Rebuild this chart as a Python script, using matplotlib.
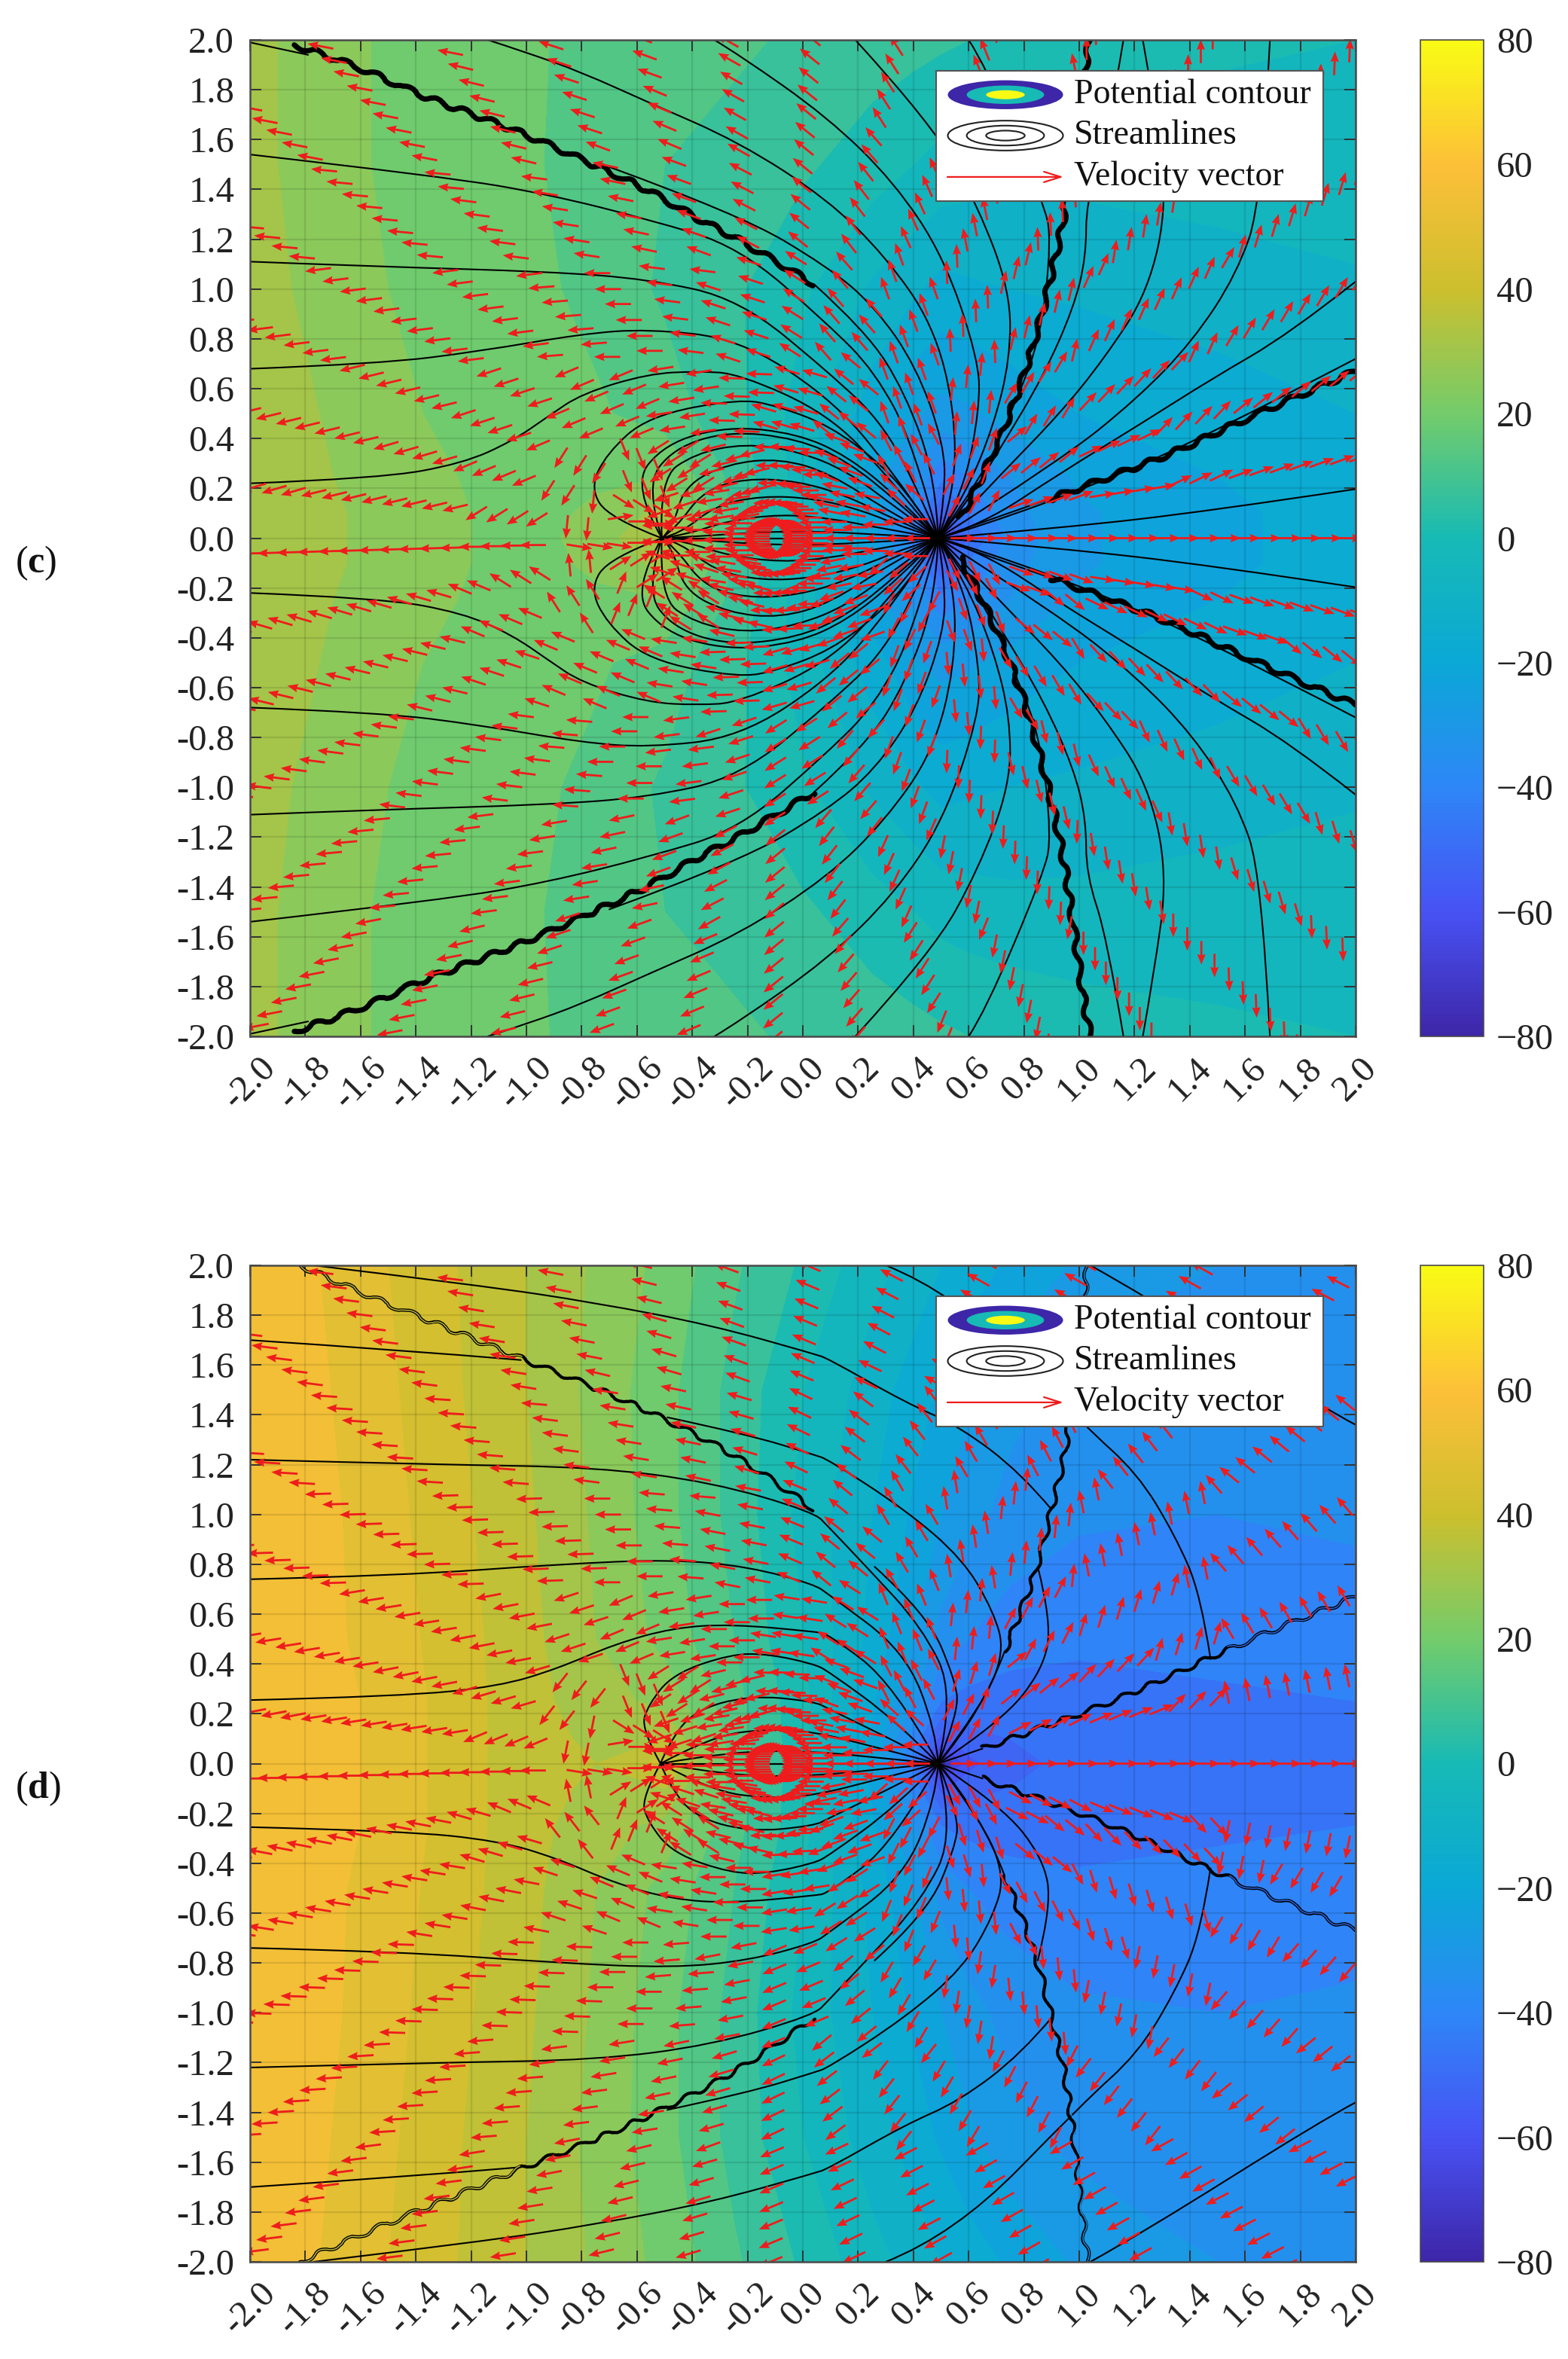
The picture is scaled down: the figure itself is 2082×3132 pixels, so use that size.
import numpy as np
import matplotlib
matplotlib.use("Agg")
import matplotlib.pyplot as plt
from matplotlib.colors import LinearSegmentedColormap
from matplotlib.path import Path
from matplotlib.patches import PathPatch, Ellipse, Rectangle

plt.rcParams['font.family'] = ['Liberation Serif', 'DejaVu Serif']
plt.rcParams['mathtext.fontset'] = 'custom'
plt.rcParams['mathtext.rm'] = 'Liberation Serif'
plt.rcParams['mathtext.bf'] = 'Liberation Serif:bold'

# ---------- values ----------
TICKS = [round(-2 + 0.2 * i, 1) for i in range(21)]
CBAR_TICKS = [-80, -60, -40, -20, 0, 20, 40, 60, 80]
PANELS = ['c', 'd']
LEGEND_LABELS = ['Potential contour', 'Streamlines', 'Velocity vector']

POT_X = [-2, -1.75, -1.5, -1, -.75, -.5, -.25, 0, .25, .4, .5, .6, .75, 1, 1.5, 2]
POT_Y = [0, .1, .25, .5, 1, 1.5, 2]
POT_C = [
    [33, 30, 25, 20, 24, 36, 10, -4, -24, -42, -76, -50, -36, -27, -21, -18],
    [33, 30, 25, 20, 23, 30, 9, -4, -23, -38, -56, -44, -34, -27, -21, -18],
    [32, 29, 24, 20, 21, 22, 8, -5, -23, -33, -42, -38, -32, -25, -20, -17],
    [32, 28, 23, 19, 17, 13, 6, -5, -17, -25, -28, -27, -24, -20, -17, -14],
    [31, 26, 22, 18, 14, 9, 5, -1, -9, -13, -16, -15, -14, -13, -11, -9],
    [30, 25, 21, 17, 13, 10, 8, 5, 1, -2, -4, -5, -6, -6, -5, -4],
    [30, 25, 21, 17, 14, 12, 11, 9, 7, 6, 5, 4, 3, 1, -1, -2],
]
POT_D = [
    [58, 55, 50, 36, 34, 42, 14, 0, -22, -45, -78, -58, -52, -48, -46, -45],
    [58, 55, 50, 36, 33, 34, 13, 0, -21, -40, -58, -52, -50, -48, -46, -45],
    [58, 55, 50, 36, 31, 26, 12, 0, -19, -32, -44, -46, -47, -46, -45, -44],
    [58, 54, 49, 36, 28, 20, 10, -2, -16, -26, -34, -38, -41, -43, -42, -41],
    [57, 54, 48, 35, 27, 18, 8, -4, -14, -21, -26, -30, -34, -37, -38, -37],
    [56, 53, 47, 34, 26, 18, 8, -2, -11, -17, -21, -25, -30, -34, -37, -37],
    [56, 52, 46, 34, 27, 20, 11, 3, -6, -10, -14, -17, -21, -27, -32, -34],
]

# arrows: nodes on rays around a centre, direction by region (upper half, mirrored below)
ARROW_CENTRE = -0.05
RAY_DEG = [0, 8.6, 17.3, 26, 34.7, 43.3, 52, 60.7, 69.3, 78, 86.7, 95.3, 104, 112.6, 121.3,
           130, 138, 146.8, 155.6, 164.7, 173.4, 181.8, 191, 199.7, 208.2, 217.9, 226, 234.7,
           243.3, 252, 260.7, 269.3, 278, 286.7, 295.3, 304, 312.7, 321.3, 330, 338.6, 347.3, 351.9]
RING_R = [.07, .145, .22, .29, .365, .44, .51, .585, .66, .73, .805, .88, .95, 1.025, 1.1,
          1.17, 1.245, 1.32, 1.39, 1.465, 1.54, 1.61, 1.685, 1.76, 1.83, 1.905, 1.98, 2.05,
          2.125, 2.2, 2.27, 2.345, 2.42, 2.49, 2.565, 2.64, 2.71, 2.785, 2.86]
ARROW_LEN = 0.095
DIR_X = [-2, -1.2, -.9, -.7, -.5, -.3, -.1, .1, .3, .5, .7, 1, 1.5, 2.01]
DIR_Y = [0, .08, .2, .4, .7, 1.1, 1.5, 2.01]
DIR_C = [
    [178, 180, 10, 0, 180, 180, 180, 180, 180, 0, 0, 0, 0],
    [195, 215, 265, 325, 200, 190, 180, 168, 135, 65, 22, 10, 8],
    [198, 205, 240, 290, 215, 195, 178, 158, 115, 72, 42, 28, 22],
    [195, 200, 205, 205, 190, 178, 162, 138, 108, 85, 62, 50, 42],
    [188, 188, 185, 180, 172, 160, 145, 128, 108, 92, 78, 68, 62],
    [174, 172, 170, 167, 158, 150, 138, 125, 112, 100, 92, 82, 75],
    [168, 165, 160, 158, 155, 148, 138, 128, 120, 110, 100, 90, 88],
]
DIR_D = [
    [180, 180, 10, 0, 180, 180, 180, 180, 180, 0, 0, 0, 0],
    [190, 205, 260, 325, 200, 190, 180, 168, 135, 65, 30, 25, 85],
    [192, 198, 235, 290, 215, 195, 178, 158, 115, 75, 42, 50, 100],
    [190, 192, 200, 205, 190, 180, 170, 145, 110, 85, 65, 75, 118],
    [182, 182, 182, 180, 175, 168, 155, 138, 118, 98, 85, 100, 128],
    [176, 175, 172, 170, 167, 162, 152, 140, 125, 118, 115, 125, 138],
    [172, 170, 168, 165, 162, 158, 155, 152, 150, 148, 148, 148, 150],
]

# streamlines, upper half (x, y); mirrored below
S = (.49, 0)
LINES_C = [
    [(-.32, 2), (-.23, 1.94), (.09, 1.69), (.33, 1.43), (.51, 1.13), (.635, .72), (.64, .52), (.58, .18), S],
    [(-1.14, 2), (-1, 1.95), (-.8, 1.87), (-.56, 1.75), (-.23, 1.59), (.09, 1.36), (.30, 1.13), (.47, .86), (.55, .52), (.55, .18), S],
    [(-.70, 1.49), (-.23, 1.30), (.09, 1.09), (.26, .93), (.41, .69), (.51, .38), (.515, .18), S],
    [(-2, 1.54), (-1.29, 1.45), (-.92, 1.38), (-.56, 1.28), (-.23, 1.17), (.09, .86), (.26, .67), (.40, .38), S],
    [(-2, 1.11), (-1.53, 1.09), (-.92, 1.07), (-.56, 1.04), (-.23, .96), (.09, .67), (.30, .45), (.45, .11), S],
    [(-2, .68), (-1.53, .70), (-1.17, .75), (-.8, .82), (-.56, .84), (-.23, .8), (.09, .57), (.30, .31), S],
    [(-2, .22), (-1.53, .24), (-1.23, .30), (-1.05, .39), (-.92, .49), (-.8, .58), (-.56, .66), (-.38, .67), (-.23, .66), (.09, .50), (.30, .26), S],
    [(-.51, 0), (-.70, .08), (-.77, .2), (-.71, .34), (-.56, .49), (-.23, .56), (-.09, .53), (.10, .45), (.28, .30), (.40, .15), S],
    [(-.51, 0), (-.62, .21), (-.5, .38), (-.27, .45), (-.02, .42), (.16, .33), (.34, .17), S],
    [(-.51, 0), (-.57, .21), (-.47, .36), (-.27, .43), (-.02, .40), (.16, .31), (.34, .15), S],
    [(-.51, 0), (-.52, .24), (-.39, .34), (-.21, .38), (-.02, .35), (.16, .27), (.34, .12), S],
    [(-.51, 0), (-.47, .04), (-.43, .21), (-.27, .30), (-.08, .32), (.10, .26), (.32, .10), S],
    [(-.51, 0), (-.46, .04), (-.36, .19), (-.21, .24), (-.02, .23), (.16, .17), (.34, .07), S],
    [(-.51, 0), (-.44, .02), (-.32, .13), (-.15, .17), (.04, .16), (.22, .11), (.37, .04), S],
    [(-.51, 0), (-.42, .015), (-.27, .07), (-.08, .096), (.10, .08), (.28, .04), S],
    [(-.51, 0), (-.41, .005), (-.08, .03), (.22, .02), S],
    [(-2, 1.99), (-1.79, 1.94)],
    [(.19, 2), (.47, 1.66), (.635, 1.33), (.75, .99), (.75, .72), (.69, .45), (.59, .18), S],
    [(.6, 2), (.66, 1.9), (.87, 1.35), (.90, 1.2), (.86, .8), (.76, .52), (.65, .245), S],
    [(1.69, 2), (1.66, 1.35), (1.57, 1.06), (1.41, .79), (1.21, .56), (.93, .31), S],
    [(1.23, 2), (1.27, 1.75), (1.32, 1.35), (1.25, .99), (1.09, .72), (.93, .50), (.72, .26), (.58, .095), S],
    [(1.16, 2), (1.1, 1.6), (1.025, 1.35), (1.025, 1.13), (.98, .925), (.87, .65), (.72, .37), (.58, .12), S],
    [(2, 1.03), (1.76, .82), (1.48, .64), (1.21, .45), (.93, .26), (.65, .055), S],
    [(2, .72), (1.48, .42), (1.07, .22), (.65, .05), S],
    [(2, .197), (1.48, .11), (.93, .04), S],
    [(-.51, 0), S],
]
ZIG_C = [
    [(-1.84, 1.98), (-1.62, 1.90), (-1.39, 1.78), (-1.19, 1.70), (-.98, 1.61), (-.80, 1.52), (-.56, 1.40), (-.38, 1.28), (-.23, 1.2), (.04, 1.02)],
    [(1.04, 2), (1.02, 1.9), (.955, 1.35), (.91, 1.10), (.84, .79), (.76, .52), (.65, .245), (.57, .08)],
    [(2, .67), (1.62, .49), (1.34, .34), (1.07, .23), (.9, .16)],
]
THIN_C = [[(.04, 1.02), (.23, .83), (.37, .585), (.48, .245), S], [(.9, .16), (.79, .12), S]]

LINES_D = [
    [(-1.77, 2), (-1.17, 1.92), (-.75, 1.85), (-.33, 1.76), (.04, 1.645), (.093, 1.625), (.37, 1.45), (.565, 1.355), (.79, 1.166), (.90, 1.02)],
    [(-2, 1.70), (-1.45, 1.66), (-1.02, 1.62)],
    [(-.49, 1.39), (-.195, 1.32), (.04, 1.24), (.093, 1.22), (.37, 1.02), (.58, .82), (.69, .61), (.73, .45), (.65, .235), S],
    [(-2, 1.22), (-1.31, 1.20), (-.75, 1.19), (-.33, 1.13), (.04, 1.01), (.093, .95), (.23, .79), (.43, .55), (.55, .28), S],
    [(-2, .74), (-1.45, .755), (-.89, .80), (-.47, .82), (-.195, .79), (.04, .72), (.093, .68), (.37, .45), (.48, .14), S],
    [(-2, .255), (-1.45, .27), (-1.1, .31), (-.89, .38), (-.68, .48), (-.47, .545), (-.26, .56), (.04, .53), (.093, .52), (.33, .32), S],
    [(-.515, 0), (-.585, .14), (-.56, .235), (-.47, .36), (-.26, .44), (-.125, .44), (.04, .40), (.093, .37), (.34, .17), S],
    [(-.515, 0), (-.49, .07), (-.4, .21), (-.195, .275), (.04, .25), (.093, .22), (.37, .07), S],
    [(-.515, 0), (-.33, .11), (-.125, .14), (.04, .128), (.25, .07), S],
    [(-.515, 0), (-.26, .05), (.04, .05), (.3, .02), S],
    [(.85, .79), (.90, .57), (.87, .38), (.72, .17), S],
    [(.26, .79), (.45, .6), (.55, .34), (.565, .21), S],
    [(.30, 2), (.55, 1.89), (1.02, 1.355), (1.21, 1.166), (1.345, .92), (1.44, .68), (1.475, .42)],
    [(1.04, 2), (1.22, 1.89), (1.88, 1.43), (2, 1.36)],
    [(-.515, 0), S],
]
ZIG_D = [
    [(-1.82, 2), (-1.56, 1.87), (-1.31, 1.76), (-1.02, 1.625), (-.75, 1.51), (-.49, 1.38), (-.195, 1.21), (.04, 1.02)],
    [(1.03, 2), (.97, 1.34), (.90, 1.02), (.85, .79), (.775, .57), (.73, .45)],
    [(2, .67), (1.776, .57), (1.54, .46), (1.26, .316), (1.0, .195), (.65, .06)],
]
THIN_D = [[(.73, .45), (.65, .21), S], [(.65, .06), S]]
# stretches of the zigzag that look hollow in the reference, with the colour seen inside
HOLLOW_D = [
    ([(-1.82, 2), (-1.56, 1.87), (-1.31, 1.76), (-1.02, 1.625)], '#c9c23a'),
    ([(1.03, 2), (1.0, 1.6), (.97, 1.34)], '#1f8fe0'),
    ([(2, .67), (1.776, .57), (1.54, .46)], '#2f6cf0'),
]

PARULA = [(.2422, .1504, .6603), (.281, .3228, .9579), (.1786, .5289, .9682),
          (.04, .66, .84), (.09, .73, .71), (.45, .80, .42),
          (.8, .75, .18), (.99, .75, .22), (.9769, .9839, .0805)]

# ---------- drawing ----------
cmap = LinearSegmentedColormap.from_list('parula_like', PARULA, N=256)
W, H = 2082, 3132
fig = plt.figure(figsize=(W / 100, H / 100), dpi=100)
AX_X, AX_W = 332, 1468
AX_TOPS = [53, 1680]
AX_H = 1323
CB_X, CB_W = 1886, 84
SPINE = '#4a4a4a'
ZIG_SKETCH = (3.5, 45, 2)


def smooth(pts):
    pts = np.asarray(pts, float)
    if len(pts) < 3:
        return Path(pts)
    v, c = [pts[0]], [Path.MOVETO]
    for i in range(1, len(pts) - 1):
        end = pts[-1] if i == len(pts) - 2 else (pts[i] + pts[i + 1]) / 2
        v += [pts[i], end]
        c += [Path.CURVE3, Path.CURVE3]
    return Path(np.array(v), c)


def mirror(pts):
    return [(x, -y) for x, y in pts]


def draw_lines(ax, lines, lw, sketch=None, color='k', z=4):
    for pts in lines:
        for p in (pts, mirror(pts)):
            patch = PathPatch(smooth(p), fill=False, ec=color, lw=lw, zorder=z, capstyle='round')
            if sketch:
                patch.set_sketch_params(*sketch)
            ax.add_patch(patch)


for name, top, pot, dirs, lines, zig, thin in (
        ('c', AX_TOPS[0], POT_C, DIR_C, LINES_C, ZIG_C, THIN_C),
        ('d', AX_TOPS[1], POT_D, DIR_D, LINES_D, ZIG_D, THIN_D)):
    ax = fig.add_axes([AX_X / W, 1 - (top + AX_H) / H, AX_W / W, AX_H / H])
    p = np.array(pot, float)
    py = np.array(POT_Y)
    Y = np.concatenate([-py[:0:-1], py])
    Z = np.vstack([p[:0:-1], p])
    ax.contourf(POT_X, Y, Z, levels=np.arange(-80, 81, 6), cmap=cmap, vmin=-80, vmax=80, zorder=1)

    ax.set_xlim(-2, 2)
    ax.set_ylim(-2, 2)
    ax.set_xticks(TICKS)
    ax.set_yticks(TICKS)
    ax.set_xticklabels([f'{t:.1f}' for t in TICKS], rotation=45, ha='center', va='top', fontsize=35, color='#222222')
    ax.set_yticklabels([f'{t:.1f}' for t in TICKS], fontsize=35, color='#222222')
    ax.tick_params(axis='both', direction='in', length=11, width=1.4, color='#333333',
                   top=True, right=True, zorder=5)
    ax.tick_params(axis='y', pad=15)
    ax.tick_params(axis='x', pad=14)
    ax.grid(True, color='k', alpha=.1, lw=1.6, zorder=2)
    ax.set_axisbelow(False)
    for s in ax.spines.values():
        s.set_color(SPINE)
        s.set_linewidth(1.8)
        s.set_zorder(8)

    # arrows
    th = np.radians(RAY_DEG)[:, None]
    r = np.array(RING_R)[None, :]
    qx = (ARROW_CENTRE + r * np.cos(th)).ravel()
    qy = (r * np.sin(th)).ravel()
    keep = (np.abs(qx) <= 2.02) & (np.abs(qy) <= 2.02)
    qx, qy = qx[keep], qy[keep]
    ix = np.clip(np.searchsorted(DIR_X, qx, side='right') - 1, 0, len(DIR_X) - 2)
    iy = np.clip(np.searchsorted(DIR_Y, np.abs(qy), side='right') - 1, 0, len(DIR_Y) - 2)
    ang = np.radians(np.array(dirs, float)[iy, ix]) * np.where(qy < 0, -1, 1)
    ax.quiver(qx, qy, ARROW_LEN * np.cos(ang), ARROW_LEN * np.sin(ang), angles='xy', scale_units='xy',
              scale=1, units='xy', width=.008, headwidth=4, headlength=5, headaxislength=4.5,
              color='#ee1c1c', pivot='tail', zorder=5)

    # streamlines
    draw_lines(ax, lines, 1.5)
    draw_lines(ax, thin, 1.5)
    if name == 'c':
        draw_lines(ax, zig, 5.0, sketch=ZIG_SKETCH)
    else:
        draw_lines(ax, zig, 3.0, sketch=ZIG_SKETCH)
        for pts, col in HOLLOW_D:
            draw_lines(ax, [pts], 1.0, sketch=ZIG_SKETCH, color=col, z=4.5)

    # legend box (drawn by hand as in the reference)
    x0, x1, y1, y0 = .482, 1.883, 1.876, 1.353
    ax.add_patch(Rectangle((x0, y0), x1 - x0, y1 - y0, fc='white', ec='#555555', lw=1.5, zorder=9))
    cx, cy = .733, 1.78
    for w, h, col in ((.417, .116, PARULA[0]), (.28, .074, PARULA[4]), (.14, .036, PARULA[-1])):
        ax.add_patch(Ellipse((cx, cy), w, h, fc=col, ec='none', zorder=10))
    cy = 1.616
    for w, h in ((.417, .12), (.28, .08), (.14, .04)):
        ax.add_patch(Ellipse((cx, cy), w, h, fc='none', ec='#222222', lw=1.5, zorder=10))
    ax.annotate('', xy=(cx + .21, 1.45), xytext=(cx - .21, 1.45), zorder=10,
                arrowprops=dict(arrowstyle='->,head_length=1.6,head_width=.5', color='#ee1c1c', lw=1.6,
                                shrinkA=0, shrinkB=0), annotation_clip=False)
    for lbl, yy in zip(LEGEND_LABELS, (1.78, 1.616, 1.45)):
        ax.text(.98, yy, lbl, fontsize=33, va='center', ha='left', color='#111111', zorder=10)

    # colour bar
    cax = fig.add_axes([CB_X / W, 1 - (top + AX_H) / H, CB_W / W, AX_H / H])
    sm = plt.cm.ScalarMappable(norm=plt.Normalize(-80, 80), cmap=cmap)
    cb = fig.colorbar(sm, cax=cax, ticks=CBAR_TICKS)
    cb.ax.tick_params(labelsize=35, length=0, pad=12, labelcolor='#222222')
    cb.outline.set_edgecolor(SPINE)
    cb.outline.set_linewidth(1.2)

    fig.text(20 / W, 1 - (top + AX_H * .525) / H, rf'($\mathbf{{{name}}}$)', fontsize=36, va='center', ha='left', color='#111111')

fig.savefig('out.png', dpi=100, facecolor='white')
